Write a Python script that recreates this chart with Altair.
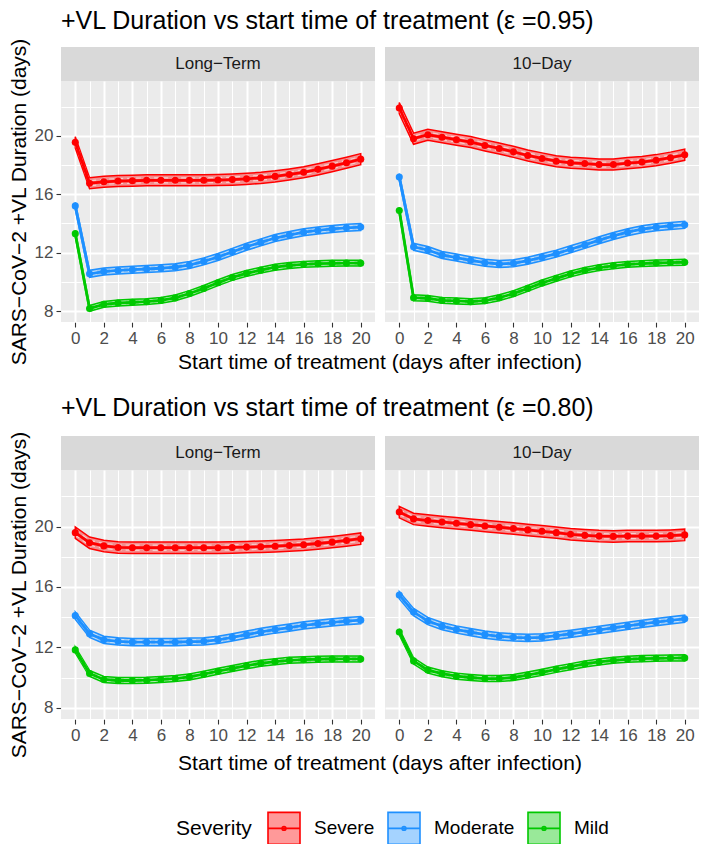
import altair as alt
import pandas as pd

T = list(range(21))
SEVERITIES = ["Severe", "Moderate", "Mild"]
TREATMENTS = ["Long−Term", "10−Day"]
SOLID = ["#FF0000", "#1E90FF", "#00C800"]
FILL = ["rgba(255,0,0,0.4)", "rgba(30,144,255,0.4)", "rgba(0,200,0,0.4)"]

# epsilon = 0.95
lt95_severe = [19.55, 16.75, 16.85, 16.9, 16.92, 16.95, 16.95, 16.95, 16.95, 16.95, 16.97,
               17.0, 17.05, 17.12, 17.22, 17.35, 17.5, 17.7, 17.92, 18.15, 18.4]
lt95_moderate = [15.2, 10.55, 10.7, 10.78, 10.83, 10.88, 10.93, 11.0, 11.15, 11.4, 11.7,
                 12.05, 12.4, 12.7, 13.0, 13.2, 13.4, 13.52, 13.62, 13.7, 13.75]
lt95_mild = [13.3, 8.18, 8.46, 8.55, 8.6, 8.64, 8.73, 8.9, 9.2, 9.55, 9.94,
             10.3, 10.58, 10.8, 11.0, 11.12, 11.2, 11.24, 11.27, 11.28, 11.28]
td95_severe = [21.9, 19.8, 20.07, 19.9, 19.73, 19.57, 19.34, 19.13, 18.9, 18.65, 18.45,
               18.26, 18.15, 18.1, 18.03, 18.03, 18.13, 18.2, 18.33, 18.5, 18.7]
td95_moderate = [17.17, 12.4, 12.18, 11.84, 11.66, 11.47, 11.31, 11.22, 11.27, 11.45, 11.68,
                 11.93, 12.23, 12.53, 12.85, 13.14, 13.4, 13.6, 13.74, 13.83, 13.9]
td95_mild = [14.88, 8.91, 8.87, 8.73, 8.69, 8.64, 8.71, 8.91, 9.19, 9.55, 9.92,
             10.24, 10.54, 10.79, 10.97, 11.1, 11.2, 11.25, 11.29, 11.32, 11.34]

# epsilon = 0.80
lt80_severe = [19.6, 18.93, 18.72, 18.62, 18.6, 18.6, 18.6, 18.6, 18.6, 18.6, 18.6,
               18.62, 18.64, 18.67, 18.7, 18.75, 18.8, 18.88, 18.97, 19.08, 19.2]
lt80_moderate = [14.1, 12.9, 12.5, 12.4, 12.35, 12.35, 12.35, 12.35, 12.37, 12.4, 12.5,
                 12.66, 12.84, 13.02, 13.18, 13.31, 13.45, 13.56, 13.65, 13.74, 13.8]
lt80_mild = [11.83, 10.27, 9.87, 9.8, 9.8, 9.82, 9.87, 9.93, 10.04, 10.22, 10.42,
             10.6, 10.78, 10.94, 11.05, 11.14, 11.18, 11.21, 11.23, 11.23, 11.23]
td80_severe = [20.96, 20.51, 20.4, 20.31, 20.22, 20.13, 20.04, 19.96, 19.87, 19.78, 19.69,
               19.6, 19.49, 19.42, 19.37, 19.35, 19.37, 19.37, 19.37, 19.4, 19.45]
td80_moderate = [15.46, 14.34, 13.74, 13.4, 13.18, 13.0, 12.84, 12.73, 12.66, 12.62, 12.66,
                 12.77, 12.89, 13.02, 13.15, 13.29, 13.42, 13.56, 13.67, 13.78, 13.89]
td80_mild = [13.02, 11.1, 10.49, 10.25, 10.09, 10.0, 9.93, 9.93, 10.0, 10.16, 10.34,
             10.54, 10.72, 10.9, 11.03, 11.14, 11.21, 11.25, 11.27, 11.29, 11.3]

# ribbon half-widths
HALF_WIDTH = {"Severe": 0.38, "Moderate": 0.24, "Mild": 0.2}

series = [
    ("0.95", TREATMENTS[0], "Severe", lt95_severe),
    ("0.95", TREATMENTS[0], "Moderate", lt95_moderate),
    ("0.95", TREATMENTS[0], "Mild", lt95_mild),
    ("0.95", TREATMENTS[1], "Severe", td95_severe),
    ("0.95", TREATMENTS[1], "Moderate", td95_moderate),
    ("0.95", TREATMENTS[1], "Mild", td95_mild),
    ("0.80", TREATMENTS[0], "Severe", lt80_severe),
    ("0.80", TREATMENTS[0], "Moderate", lt80_moderate),
    ("0.80", TREATMENTS[0], "Mild", lt80_mild),
    ("0.80", TREATMENTS[1], "Severe", td80_severe),
    ("0.80", TREATMENTS[1], "Moderate", td80_moderate),
    ("0.80", TREATMENTS[1], "Mild", td80_mild),
]
rows = []
for eps, tr, sev, vals in series:
    hw = HALF_WIDTH[sev]
    for t, v in zip(T, vals):
        rows.append(dict(eps=eps, Treatment=tr, Severity=sev, t=t, y=v,
                         lo=v - hw, hi=v + hw, d1=v - 0.45 * hw, d2=v + 0.45 * hw))
df = pd.DataFrame(rows)

W = 314
STRIP = 34
FONT = "Liberation Sans"
LEGEND_PATH = ("M-1,-1H1V1H-1Z M-1,0H1 "
               "M-0.12,0A0.12,0.12 0 1,1 0.12,0A0.12,0.12 0 1,1 -0.12,0")


def legend():
    return alt.Legend(
        title="Severity", orient="none", legendX=115, legendY=730,
        direction="horizontal", titleOrient="left",
        symbolType=LEGEND_PATH, symbolSize=1024, symbolStrokeWidth=1.6,
        labelFontSize=19, titleFontSize=21, titleFontWeight="normal",
        titleColor="black", labelColor="black", columnPadding=9,
        labelOffset=13, titlePadding=15, labelFont=FONT, titleFont=FONT)


def section(eps, height, title, title_offset, xtitle_pad):
    xenc = alt.X("t:Q", scale=alt.Scale(domain=[-1, 21], nice=False, zero=False),
                 title=None,
                 axis=alt.Axis(values=T,
                               labelExpr="datum.value % 2 == 0 ? datum.label : ''",
                               gridWidth={"condition": {"test": "datum.value % 2 == 0", "value": 2}, "value": 1},
                               tickOpacity={"condition": {"test": "datum.value % 2 == 0", "value": 1}, "value": 0},
                               labelFlush=False, labelOverlap=False))
    yvals = [8, 10, 12, 14, 16, 18, 20, 22]
    yscale = alt.Scale(domain=[7.25, 23.75], nice=False, zero=False)
    yaxis = alt.Axis(values=yvals,
                     labelExpr="datum.value % 4 == 0 ? datum.label : ''",
                     gridWidth={"condition": {"test": "datum.value % 4 == 0", "value": 2}, "value": 1},
                     tickOpacity={"condition": {"test": "datum.value % 4 == 0", "value": 1}, "value": 0},
                     labelFlush=False, labelOverlap=False)
    ytitle = "SARS−CoV−2 +VL Duration (days)"

    band = alt.Chart().mark_area(strokeWidth=1.5).encode(
        x=xenc,
        y=alt.Y("lo:Q", scale=yscale, axis=yaxis, title=ytitle),
        y2="hi:Q",
        fill=alt.Fill("Severity:N", scale=alt.Scale(domain=SEVERITIES, range=FILL), legend=legend()),
        stroke=alt.Stroke("Severity:N", scale=alt.Scale(domain=SEVERITIES, range=SOLID), legend=legend()),
    )
    dash1 = alt.Chart().mark_line(color="white", opacity=0.55, strokeDash=[5, 4], strokeWidth=1.2).encode(
        x=xenc, y=alt.Y("d1:Q", scale=yscale, axis=yaxis, title=ytitle), detail="Severity:N")
    dash2 = alt.Chart().mark_line(color="white", opacity=0.55, strokeDash=[5, 4], strokeWidth=1.2).encode(
        x=xenc, y=alt.Y("d2:Q", scale=yscale, axis=yaxis, title=ytitle), detail="Severity:N")
    line = alt.Chart().mark_line(strokeWidth=2.8).encode(
        x=xenc, y=alt.Y("y:Q", scale=yscale, axis=yaxis, title=ytitle),
        color=alt.Color("Severity:N", scale=alt.Scale(domain=SEVERITIES, range=SOLID), legend=None))
    pts = alt.Chart().mark_circle(size=50, opacity=1).encode(
        x=xenc, y=alt.Y("y:Q", scale=yscale, axis=yaxis, title=ytitle),
        color=alt.Color("Severity:N", scale=alt.Scale(domain=SEVERITIES, range=SOLID), legend=None))
    one = "datum.t == 0 && datum.Severity == 'Severe'"
    strip_bg = alt.Chart().mark_rect(color="#D9D9D9").encode(
        x=alt.value(0), x2=alt.value(W), y=alt.value(-STRIP), y2=alt.value(0)).transform_filter(one)
    strip_tx = alt.Chart().mark_text(fontSize=17, color="#1A1A1A", font=FONT).encode(
        x=alt.value(W / 2), y=alt.value(-STRIP / 2), text="Treatment:N").transform_filter(one)

    layered = alt.layer(band, dash1, dash2, line, pts, strip_bg, strip_tx,
                        data=df[df.eps == eps]).properties(width=W, height=height)
    return layered.facet(
        column=alt.Column("Treatment:N", sort=TREATMENTS,
                          header=alt.Header(labels=False,
                                            title="Start time of treatment (days after infection)",
                                            titleOrient="bottom", titleFontSize=21,
                                            titleFontWeight="normal", titleColor="black",
                                            titleFont=FONT, titlePadding=xtitle_pad)),
        spacing=10,
        title=alt.Title(title, anchor="start", fontSize=25, fontWeight="normal", color="black",
                        font=FONT, frame="group", offset=title_offset),
    )


top = section("0.95", 241, "+VL Duration vs start time of treatment (ε =0.95)", 4, -4)
bottom = section("0.80", 249, "+VL Duration vs start time of treatment (ε =0.80)", 10, 0)

chart = alt.vconcat(top, bottom, spacing=22).properties(padding=0).configure(
    font=FONT
).configure_view(
    fill="#EBEBEB", stroke=None
).configure_axis(
    domain=False, gridColor="white", tickColor="#333333", tickSize=5, tickWidth=1.1,
    labelColor="#4D4D4D", labelFontSize=17, labelPadding=3, titleFontSize=21,
    titleColor="black", titleFontWeight="normal", titlePadding=5,
    labelFont=FONT, titleFont=FONT,
)

chart.save("out.html", embed_options={"renderer": "svg", "actions": False})
